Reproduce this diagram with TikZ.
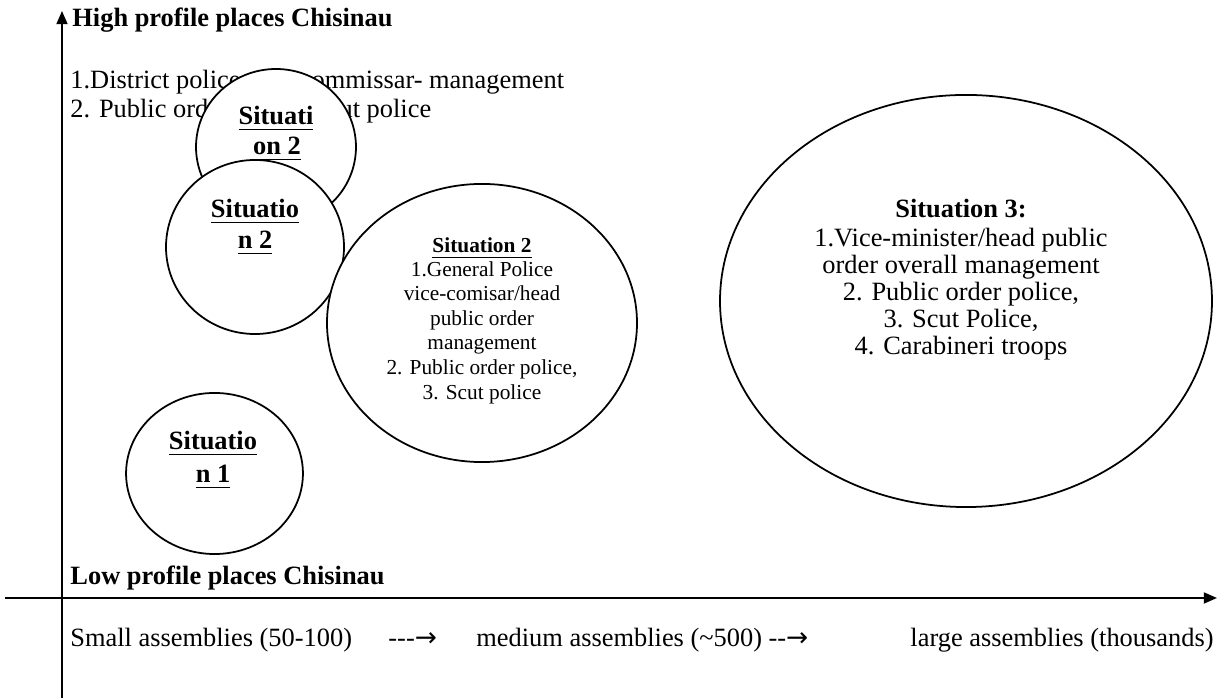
\documentclass[tikz,border=0pt]{standalone}
\usepackage{fontspec}
\setmainfont{Liberation Serif}
\newfontfamily\arrowfont{DejaVu Sans}
\usetikzlibrary{shapes.geometric,arrows.meta}
\newcommand\myul[1]{\setbox0\hbox{#1}\leavevmode\rlap{\rule[-2.4pt]{\wd0}{0.8pt}}\box0}
\newcommand\rarr{{\arrowfont\fontsize{12}{13}\selectfont →}}
\begin{document}
\begin{tikzpicture}[x=0.4545pt,y=-0.4545pt,
  body/.style={inner sep=0pt,font=\fontsize{12}{14}\selectfont},
  bodyw/.style={body,anchor=base west},
  bodyc/.style={body,anchor=base},
  head/.style={inner sep=0pt,anchor=base west,font=\fontsize{12}{14}\selectfont\bfseries},
  lbl/.style={inner sep=0pt,anchor=base,font=\fontsize{12}{14}\selectfont\bfseries},
  small/.style={inner sep=0pt,anchor=base,font=\fontsize{9.7}{11}\selectfont},
  sit/.style={ellipse,draw,fill=white,line width=0.8pt,inner sep=0pt},
  axis/.style={line width=0.85pt,-{Triangle[length=6pt,width=5pt]}}]
\useasboundingbox (0,0) rectangle (1227,698);

% axes
\coordinate (yb) at (62,698);
\coordinate (yt) at (62,11);
\coordinate (xl) at (5,598);
\coordinate (xr) at (1217,598);
\draw[axis] (yb) -- (yt);
\draw[axis] (xl) -- (xr);

% headings
\node[head] (hi) at (72,27) {High profile places Chisinau};
\node[head] (lo) at (70,585) {Low profile places Chisinau};

% partly hidden text
\node[bodyw] (l1) at (70,89) {1.District police vice-commissar- management};
\node[bodyw] (l2) at (70,118) {2. Public order police, Scut police};

% bottom scale
\node[bodyw] (sa) at (70,647) {Small assemblies (50-100)};
\node[bodyw] (ar1) at (388,647) {-{}-{}-\rarr};
\node[bodyw] (ma) at (476,647) {medium assemblies (\textasciitilde500) -{}-\rarr};
\node[body,anchor=base east] (la) at (1214,647) {large assemblies (thousands)};

% ellipses
\node[sit,minimum width=72.7pt,minimum height=70.9pt] (e2a) at (276,147) {};
\node[lbl] (e2a1) at (276,125) {\myul{Situati}};
\node[lbl] (e2a2) at (277,155) {\myul{on 2}};

\node[sit,minimum width=80.9pt,minimum height=79.1pt] (e2b) at (255,247) {};
\node[lbl] (e2b1) at (255,218) {\myul{Situatio}};
\node[lbl] (e2b2) at (255,249) {\myul{n 2}};

\node[sit,minimum width=80.4pt,minimum height=73.2pt] (e1) at (214.5,473.5) {};
\node[lbl] (e11) at (213,450) {\myul{Situatio}};
\node[lbl] (e12) at (213,483) {\myul{n 1}};

\node[sit,minimum width=140.9pt,minimum height=126.4pt] (e2c) at (482,323) {};
\node[small,font=\fontsize{9.7}{11}\selectfont\bfseries] (c0) at (482,253) {\myul{Situation 2}};
\node[small] (c1) at (482,277) {1.General Police};
\node[small] (c2) at (482,301) {vice-comisar/head};
\node[small] (c3) at (482,326) {public order};
\node[small] (c4) at (482,350) {management};
\node[small] (c5) at (482,375) {2. Public order police,};
\node[small] (c6) at (482,400) {3. Scut police};

\node[sit,minimum width=223.6pt,minimum height=187.3pt] (e3) at (966,301) {};
\node[lbl] (d0) at (961,218) {Situation 3:};
\node[bodyc] (d1) at (961,247) {1.Vice-minister/head public};
\node[bodyc] (d2) at (961,274) {order overall management};
\node[bodyc] (d3) at (961,301) {2. Public order police,};
\node[bodyc] (d4) at (961,328) {3. Scut Police,};
\node[bodyc] (d5) at (961,355) {4. Carabineri troops};
\end{tikzpicture}
\end{document}
